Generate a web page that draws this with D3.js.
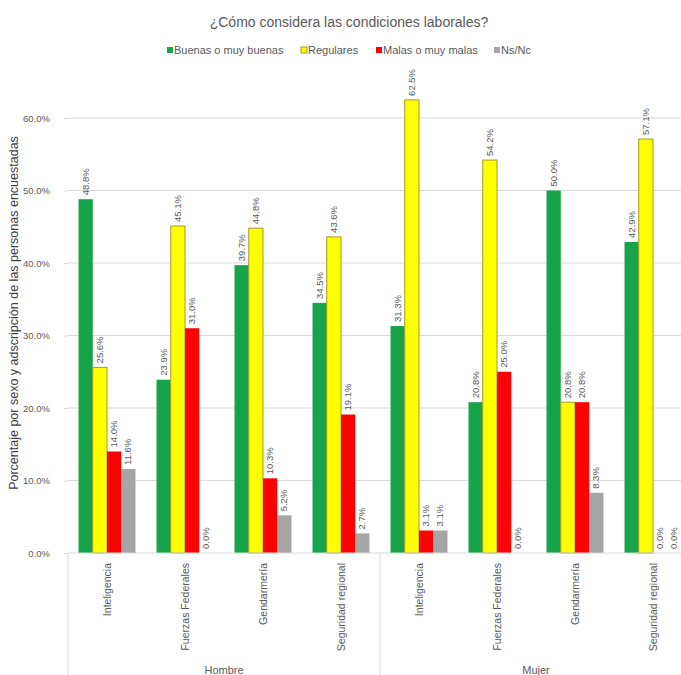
<!DOCTYPE html>
<html><head><meta charset="utf-8">
<script src="https://cdn.jsdelivr.net/npm/d3@7"></script>
<style>body{margin:0;background:#fff}</style>
</head><body><svg id="c" width="681" height="675"></svg>
<script>
const title = "¿Cómo considera las condiciones laborales?";
const yTitle = "Porcentaje por sexo y adscripción de las personas encuestadas";
const groups = ["Hombre", "Mujer"];
const categories = ["Inteligencia", "Fuerzas Federales", "Gendarmería", "Seguridad regional"];
const seriesNames = ["Buenas o muy buenas", "Regulares", "Malas o muy malas", "Ns/Nc"];
const seriesColors = ["#17a34a", "#ffff00", "#ff0000", "#a6a6a6"];
const yTicks = [0, 10, 20, 30, 40, 50, 60];
// values per group, per category: [buenas, regulares, malas, ns/nc]
const hombre = [[48.8, 25.6, 14.0, 11.6], [23.9, 45.1, 31.0, 0.0], [39.7, 44.8, 10.3, 5.2], [34.5, 43.6, 19.1, 2.7]];
const mujer  = [[31.3, 62.5, 3.1, 3.1], [20.8, 54.2, 25.0, 0.0], [50.0, 20.8, 20.8, 8.3], [42.9, 57.1, 0.0, 0.0]];

const svg = d3.select("#c");
const font = "'Liberation Sans', Arial, sans-serif";
const pLeft = 68, pRight = 692, pTop = 118, pBottom = 553;

const keys = [];
groups.forEach(g => categories.forEach(c => keys.push(g + "|" + c)));
const data = [hombre, mujer];

const x0 = d3.scaleBand().domain(keys).range([pLeft, pRight]).padding(0);
const x1 = d3.scaleBand().domain(seriesNames).range([0, x0.bandwidth()]).paddingOuter(0.74).paddingInner(0);
const y = d3.scaleLinear().domain([0, 60]).range([pBottom, pTop]);

// gridlines
svg.append("g").selectAll("line").data(yTicks.slice(1)).join("line")
  .attr("x1", pLeft).attr("x2", 681).attr("y1", d => y(d)).attr("y2", d => y(d))
  .attr("stroke", "#d9d9d9").attr("stroke-width", 1);

// y axis
const yAxis = d3.axisLeft(y).tickValues(yTicks).tickFormat(d => d.toFixed(1) + "%").tickSize(4).tickPadding(14);
const ya = svg.append("g").attr("transform", `translate(${pLeft},0)`).call(yAxis);
ya.select(".domain").remove();
ya.selectAll("line").attr("stroke", "#d9d9d9");
ya.selectAll("text").attr("font-family", font).attr("font-size", 9.5).attr("fill", "#595959");

// bars
const barsG = svg.append("g");
groups.forEach((g, gi) => {
  categories.forEach((c, ci) => {
    const k = g + "|" + c;
    const gg = barsG.append("g").attr("transform", `translate(${x0(k)},0)`);
    const vals = seriesNames.map((s, si) => ({s, si, v: data[gi][ci][si]}));
    gg.selectAll("rect").data(vals).join("rect")
      .attr("x", d => x1(d.s)).attr("width", x1.bandwidth())
      .attr("y", d => y(d.v)).attr("height", d => y(0) - y(d.v))
      .attr("fill", d => seriesColors[d.si])
      .attr("stroke", d => d.si === 1 ? "#a89a1e" : "none").attr("stroke-width", 1);
    gg.selectAll("text").data(vals).join("text")
      .attr("transform", d => `translate(${x1(d.s) + x1.bandwidth() / 2 + 3},${y(d.v) - 4}) rotate(-90)`)
      .attr("text-anchor", "start")
      .attr("font-family", font).attr("font-size", 9.5).attr("fill", "#595959")
      .text(d => d.v.toFixed(1) + "%");
  });
});

// category axis
svg.append("line").attr("x1", pLeft).attr("x2", 681).attr("y1", pBottom).attr("y2", pBottom).attr("stroke", "#d9d9d9");
[pLeft, (pLeft + pRight) / 2, pRight].forEach(xv => {
  svg.append("line").attr("x1", xv).attr("x2", xv).attr("y1", pBottom).attr("y2", 675).attr("stroke", "#d9d9d9");
});
svg.append("g").selectAll("text").data(keys).join("text")
  .attr("transform", d => `translate(${x0(d) + x0.bandwidth() / 2 + 3.5},${pBottom + 10}) rotate(-90)`)
  .attr("text-anchor", "end")
  .attr("font-family", font).attr("font-size", 10.5).attr("fill", "#595959")
  .text(d => d.split("|")[1]);
groups.forEach((g, gi) => {
  const ks = keys.filter(k => k.startsWith(g + "|"));
  const cx = (x0(ks[0]) + x0(ks[ks.length - 1]) + x0.bandwidth()) / 2;
  svg.append("text").attr("x", cx).attr("y", 674).attr("text-anchor", "middle")
    .attr("font-family", font).attr("font-size", 11).attr("fill", "#595959").text(g);
});

// title
svg.append("text").attr("x", 349).attr("y", 27).attr("text-anchor", "middle")
  .attr("font-family", font).attr("font-size", 14).attr("fill", "#595959").text(title);

// y title
svg.append("text").attr("transform", `translate(18,313) rotate(-90)`).attr("text-anchor", "middle")
  .attr("font-family", font).attr("font-size", 12.5).attr("fill", "#404040").text(yTitle);

// legend
const legX = [167, 301, 376, 494];
const leg = svg.append("g").selectAll("g").data(seriesNames).join("g")
  .attr("transform", (d, i) => `translate(${legX[i]},52)`);
leg.append("rect").attr("x", 0).attr("y", -5).attr("width", 6).attr("height", 6)
  .attr("fill", (d, i) => seriesColors[i]).attr("stroke", (d, i) => i === 1 ? "#a89a1e" : "none");
leg.append("text").attr("x", 7).attr("y", 2).attr("font-family", font).attr("font-size", 11)
  .attr("fill", "#595959").text(d => d);
</script></body></html>
